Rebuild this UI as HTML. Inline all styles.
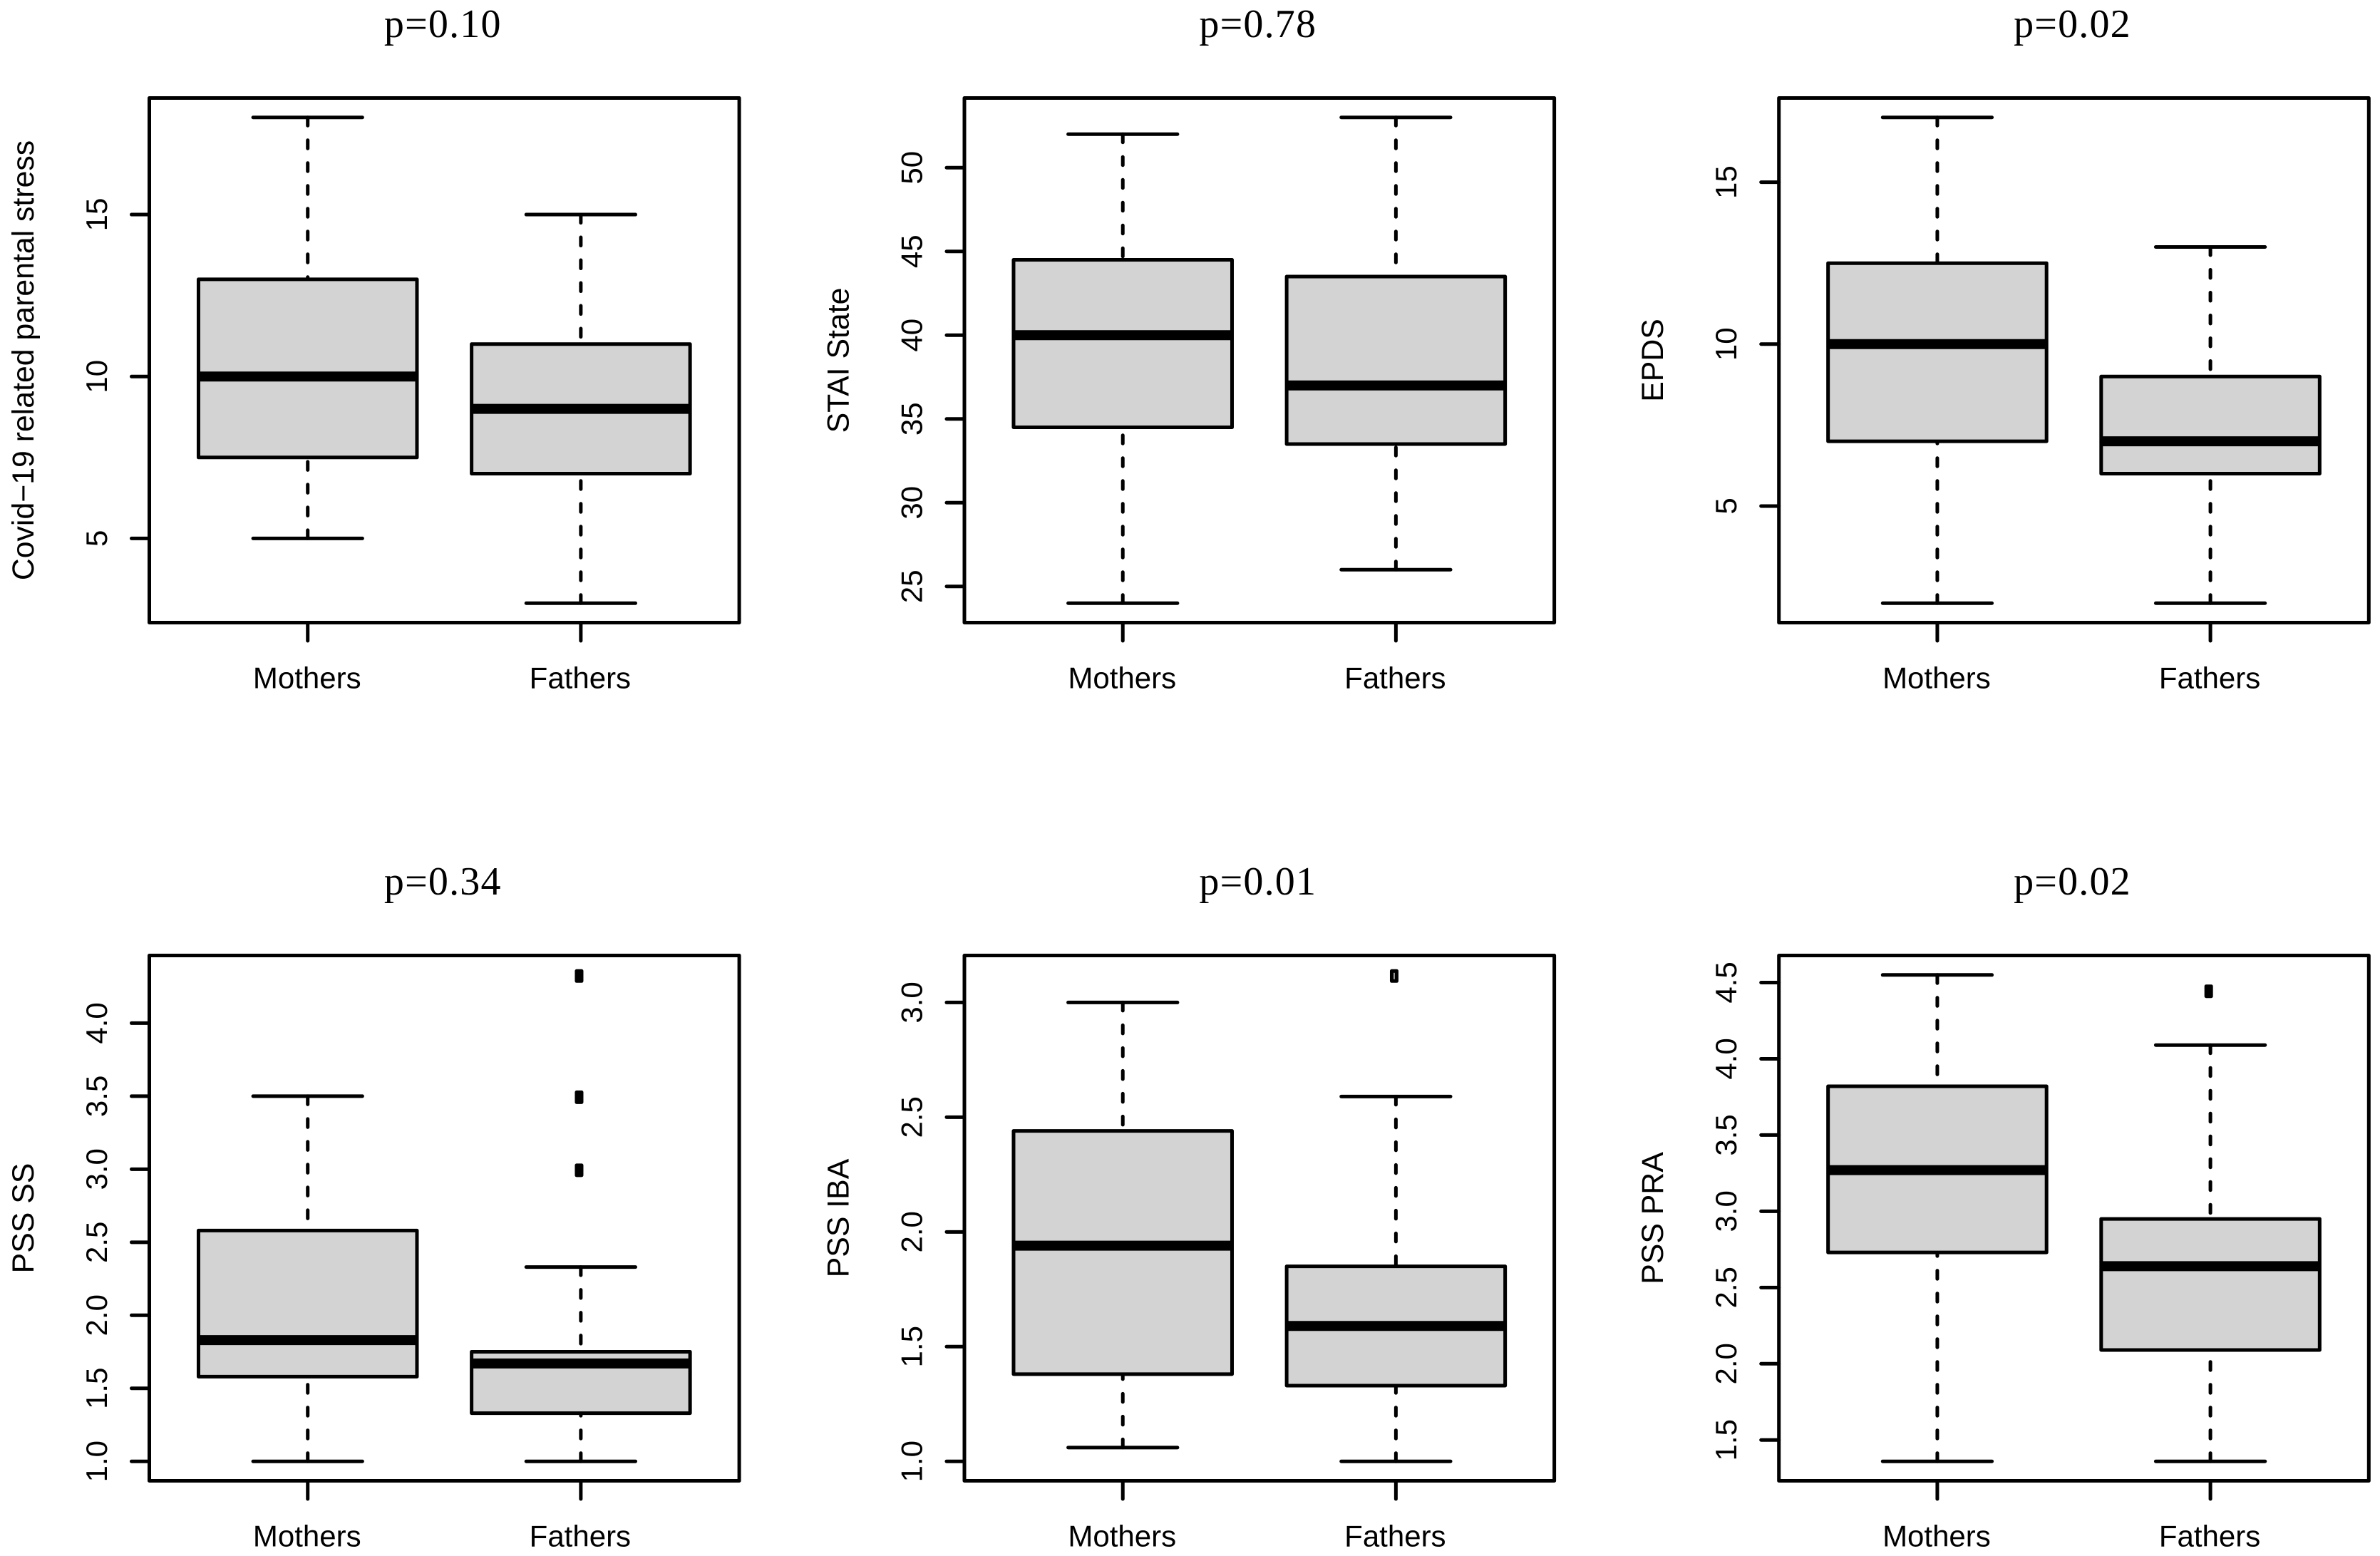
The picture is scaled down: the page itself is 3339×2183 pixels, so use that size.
<!DOCTYPE html>
<html lang="en">
<head>
<meta charset="utf-8">
<title>Parental stress boxplots</title>
<style>
  html, body { margin: 0; padding: 0; background: #ffffff; }
  #chart { display: block; }
  .sans { font-family: "Liberation Sans", sans-serif; font-size: 42px; fill: #000; }
  .ytitle { font-family: "Liberation Sans", sans-serif; font-size: 42.8px; fill: #000; }
  .title { font-family: "Liberation Serif", serif; font-size: 56px; fill: #000; letter-spacing: 1.2px; }
</style>
</head>
<body>
<svg id="chart" xmlns="http://www.w3.org/2000/svg" width="3339" height="2183" viewBox="0 0 3339 2183"></svg>
<script>
// ---- Data ----
const categories = ['Mothers', 'Fathers'];
const panelSlugs = ['covid-stress', 'stai-state', 'epds', 'pss-ss', 'pss-iba', 'pss-pra'];
const panelTitles = ['p=0.10', 'p=0.78', 'p=0.02', 'p=0.34', 'p=0.01', 'p=0.02'];
const yAxisTitles = ['Covid\u221219 related parental stress', 'STAI State', 'EPDS', 'PSS SS', 'PSS IBA', 'PSS PRA'];
const whiskerLow  = [[5, 3], [24, 26], [2, 2], [1, 1], [1.06, 1], [1.36, 1.36]];
const boxQ1       = [[7.5, 7], [34.5, 33.5], [7, 6], [1.58, 1.33], [1.38, 1.33], [2.73, 2.09]];
const medians     = [[10, 9], [40, 37], [10, 7], [1.83, 1.67], [1.94, 1.59], [3.27, 2.64]];
const boxQ3       = [[13, 11], [44.5, 43.5], [12.5, 9], [2.58, 1.75], [2.44, 1.85], [3.82, 2.95]];
const whiskerHigh = [[18, 15], [52, 53], [17, 13], [3.5, 2.33], [3, 2.59], [4.55, 4.09]];
const outliersMothers = [[], [], [], [], [], []];
const outliersFathers = [[], [], [], [3, 3.5, 4.33], [3.12], [4.45]];
const yTickLabels = [
  ['5', '10', '15'],
  ['25', '30', '35', '40', '45', '50'],
  ['5', '10', '15'],
  ['1.0', '1.5', '2.0', '2.5', '3.0', '3.5', '4.0'],
  ['1.0', '1.5', '2.0', '2.5', '3.0'],
  ['1.5', '2.0', '2.5', '3.0', '3.5', '4.0', '4.5']
];

// ---- Layout ----
const frameLefts = [209.5, 1353, 2495.7];
const frameTops = [137.5, 1340.5];
const frameBottoms = [873.5, 2077.5];
const frameWidth = 827.6;
const columnCount = 3;
const hollowOutlierPanel = 4;
const svg = document.getElementById('chart');
const NS = 'http://www.w3.org/2000/svg';

function mk(parent, tag, props, text) {
  const el = document.createElementNS(NS, tag);
  for (const k in props) el.setAttribute(k, props[k]);
  if (text !== undefined) el.textContent = text;
  parent.appendChild(el);
  return el;
}
const lineStyle = { stroke: '#000', 'stroke-width': 5, 'stroke-linecap': 'round', fill: 'none' };

panelTitles.forEach(function (title, p) {
  const col = p % columnCount;
  const row = Math.floor(p / columnCount);
  const L = frameLefts[col], R = L + frameWidth;
  const T = frameTops[row], B = frameBottoms[row];
  const slug = panelSlugs[p];
  const outs = [outliersMothers[p], outliersFathers[p]];

  // Axis functions (R-style 4% range expansion)
  const all = whiskerLow[p].concat(whiskerHigh[p], outs[0], outs[1]);
  const lo = Math.min.apply(null, all), hi = Math.max.apply(null, all);
  const pad = (hi - lo) * 0.04;
  const yOf = function (v) { return B - (v - (lo - pad)) / ((hi + pad) - (lo - pad)) * (B - T); };
  const xOf = function (u) { return L + (u - 0.42) / 2.16 * (R - L); };

  const g = mk(svg, 'g', {});
  
  

  const ttl = mk(g, 'text', { x: (L + R) / 2 - 2, y: T - 85.5, 'text-anchor': 'middle', class: 'title' }, title);
  
  

  const yl = mk(g, 'text', { transform: 'translate(' + (L - 162.5) + ' ' + (T + B) / 2 + ') rotate(-90)', 'text-anchor': 'middle', class: 'ytitle' }, yAxisTitles[p]);
  
  

  // y ticks
  yTickLabels[p].forEach(function (lab) {
    const y = yOf(parseFloat(lab));
    const tick = mk(g, 'line', Object.assign({ x1: L - 25, x2: L, y1: y, y2: y }, lineStyle));
    
    
    const t = mk(g, 'text', { transform: 'translate(' + (L - 59.5) + ' ' + y + ') rotate(-90)', 'text-anchor': 'middle', class: 'sans' }, lab);
    
    
  });

  // boxes
  categories.forEach(function (cat, c) {
    const name = cat.toLowerCase();
    const x = xOf(c + 1), hw = 0.4 / 2.16 * (R - L), sw = 0.2 / 2.16 * (R - L);
    const yLow = yOf(whiskerLow[p][c]), yQ1 = yOf(boxQ1[p][c]), yMed = yOf(medians[p][c]);
    const yQ3 = yOf(boxQ3[p][c]), yHigh = yOf(whiskerHigh[p][c]);

    const wl = mk(g, 'line', Object.assign({ x1: x, x2: x, y1: yLow, y2: yQ1, 'stroke-dasharray': '11.5 20.5' }, lineStyle));
    
    
    const wh = mk(g, 'line', Object.assign({ x1: x, x2: x, y1: yHigh, y2: yQ3, 'stroke-dasharray': '11.5 20.5' }, lineStyle));
    
    
    const sl = mk(g, 'line', Object.assign({ x1: x - sw, x2: x + sw, y1: yLow, y2: yLow }, lineStyle));
    
    
    const sh = mk(g, 'line', Object.assign({ x1: x - sw, x2: x + sw, y1: yHigh, y2: yHigh }, lineStyle));
    
    

    const box = mk(g, 'rect', { x: x - hw, y: yQ3, width: 2 * hw, height: yQ1 - yQ3, fill: '#d3d3d3', stroke: '#000', 'stroke-width': 5, 'stroke-linejoin': 'round' });
    
    
    const med = mk(g, 'line', { x1: x - hw, x2: x + hw, y1: yMed, y2: yMed, stroke: '#000', 'stroke-width': 14 });
    
    

    outs[c].forEach(function (v) {
      const o = mk(g, 'rect', { x: x - 8.4, y: yOf(v) + 1.5 - 9.5, width: 12, height: 19, rx: 2.5, ry: 2.5, fill: '#000' });
      
      
      if (p === hollowOutlierPanel) {
        const slit = mk(g, 'rect', { x: x - 3, y: yOf(v) + 1.5 - 4.5, width: 1.2, height: 9, fill: '#fff' });
        
        
      }
    });

    const xt = mk(g, 'line', Object.assign({ x1: x, x2: x, y1: B, y2: B + 25.5 }, lineStyle));
    
    
    const xl = mk(g, 'text', { x: x - 1, y: B + 92, 'text-anchor': 'middle', class: 'sans' }, cat);
    
    
  });

  const frame = mk(g, 'rect', { x: L, y: T, width: R - L, height: B - T, fill: 'none', stroke: '#000', 'stroke-width': 5, 'stroke-linejoin': 'round' });
  
  
});
</script>
</body>
</html>
